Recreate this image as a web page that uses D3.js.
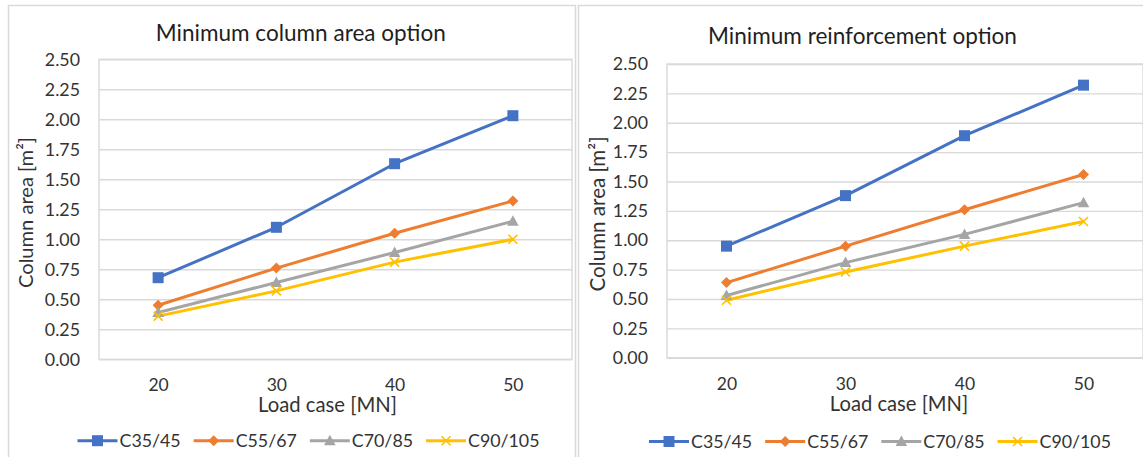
<!DOCTYPE html>
<html>
<head>
<meta charset="utf-8">
<script src="https://cdn.jsdelivr.net/npm/d3@7"></script>
<style>
  body { margin: 0; background: #fff; }
  svg { display: block; }
  text { font-family: Lato, "Open Sans", "DejaVu Sans", sans-serif; }
</style>
</head>
<body>
<svg id="chart" width="1143" height="457"></svg>
<script>
// Load cases on the x axis [MN]
const loadCases = [20, 30, 40, 50];
// Concrete strength classes (one line per class)
const grades = ["C35/45", "C55/67", "C70/85", "C90/105"];
// Y axis tick values [m²]
const areaTicks = [0, 0.25, 0.5, 0.75, 1.0, 1.25, 1.5, 1.75, 2.0, 2.25, 2.5];

// Minimum column area option: column area [m²]
const minAreaC35 = [0.68, 1.10, 1.63, 2.03];
const minAreaC55 = [0.45, 0.76, 1.05, 1.32];
const minAreaC70 = [0.39, 0.64, 0.89, 1.15];
const minAreaC90 = [0.36, 0.57, 0.81, 1.00];

// Minimum reinforcement option: column area [m²]
const minReinfC35 = [0.95, 1.38, 1.89, 2.32];
const minReinfC55 = [0.64, 0.95, 1.26, 1.56];
const minReinfC70 = [0.53, 0.81, 1.05, 1.32];
const minReinfC90 = [0.49, 0.73, 0.95, 1.16];

const gradeColors = ["#4472C4", "#ED7D31", "#A5A5A5", "#FFC000"];
const gradeMarkers = ["square", "diamond", "triangle", "cross"];

const panels = [
  {
    title: "Minimum column area option",
    series: [minAreaC35, minAreaC55, minAreaC70, minAreaC90],
    frame: { x: 8.5, y: 5.5, w: 567, h: 500 },
    plot: { left: 99, right: 572, top: 59.3, bottom: 359.3 },
    titleX: 300.8, titleY: 40.7, titleW: 290,
    yTitleX: 33, yTitleY: 212.5, yTitleW: 151,
    xTickY: 391.5,
    xTitleX: 327.5, xTitleY: 411.7, xTitleW: 139,
    legendX: 308.5, legendY: 440.7
  },
  {
    title: "Minimum reinforcement option",
    series: [minReinfC35, minReinfC55, minReinfC70, minReinfC90],
    frame: { x: 578.5, y: 5.5, w: 600, h: 500 },
    plot: { left: 667, right: 1143, top: 64, bottom: 357.8 },
    titleX: 862.5, titleY: 43.5, titleW: 309,
    yTitleX: 604.5, yTitleY: 214, yTitleW: 155,
    xTickY: 390,
    xTitleX: 899, xTitleY: 411, xTitleW: 138.5,
    legendX: 880, legendY: 441.5
  }
];

const svg = d3.select("#chart");
svg.append("rect").attr("width", 1143).attr("height", 457).attr("fill", "#fff");

// scale a text's font size so that it spans the given width
function fitText(sel, width) {
  const node = sel.node();
  const fs = parseFloat(sel.attr("font-size"));
  const len = node.getComputedTextLength();
  if (len > 0) sel.attr("font-size", (fs * width / len).toFixed(2));
  return sel;
}

function markerPath(kind) {
  const p = d3.path();
  if (kind === "square") {
    p.rect(-5.5, -5.5, 11, 11);
  } else if (kind === "diamond") {
    p.moveTo(0, -5.5); p.lineTo(5.5, 0); p.lineTo(0, 5.5); p.lineTo(-5.5, 0); p.closePath();
  } else if (kind === "triangle") {
    p.moveTo(0, -6); p.lineTo(5.8, 4.5); p.lineTo(-5.8, 4.5); p.closePath();
  } else {
    p.moveTo(-4.5, -4.5); p.lineTo(4.5, 4.5);
    p.moveTo(4.5, -4.5); p.lineTo(-4.5, 4.5);
  }
  return p.toString();
}

function drawMarker(g, i, x, y) {
  const kind = gradeMarkers[i];
  const m = g.append("path")
    .attr("d", markerPath(kind))
    .attr("transform", `translate(${x},${y})`);
  if (kind === "cross") {
    m.attr("fill", "none").attr("stroke", gradeColors[i]).attr("stroke-width", 1.6);
  } else {
    m.attr("fill", gradeColors[i]);
  }
}

panels.forEach(panel => {
  const g = svg.append("g");
  const P = panel.plot;

  // chart area border
  g.append("rect")
    .attr("x", panel.frame.x).attr("y", panel.frame.y)
    .attr("width", panel.frame.w).attr("height", panel.frame.h)
    .attr("fill", "#fff").attr("stroke", "#d9d9d9").attr("stroke-width", 1.5);

  const x = d3.scalePoint().domain(loadCases).range([P.left, P.right]).padding(0.5);
  const y = d3.scaleLinear().domain([0, 2.5]).range([P.bottom, P.top]);

  // horizontal gridlines
  const grid = g.append("g")
    .attr("transform", `translate(${P.left},0)`)
    .call(d3.axisLeft(y).tickValues(areaTicks).tickSize(-(P.right - P.left)).tickFormat(""));
  grid.select(".domain").remove();
  grid.selectAll(".tick line").attr("stroke", "#d9d9d9").attr("stroke-width", 1.4);

  // plot area frame
  g.append("rect")
    .attr("x", P.left).attr("y", P.top)
    .attr("width", P.right - P.left).attr("height", P.bottom - P.top)
    .attr("fill", "none").attr("stroke", "#d9d9d9").attr("stroke-width", 1.4);

  // y tick labels
  const yAxis = g.append("g")
    .attr("transform", `translate(${P.left},0)`)
    .call(d3.axisLeft(y).tickValues(areaTicks).tickSize(0).tickPadding(19).tickFormat(d3.format(".2f")));
  yAxis.select(".domain").remove();
  yAxis.selectAll("text").attr("font-size", 17.8).attr("fill", "#333")
    .style("font-family", "Lato, 'Open Sans', sans-serif");

  // x tick labels
  const xAxis = g.append("g")
    .attr("transform", `translate(0,${P.bottom})`)
    .call(d3.axisBottom(x).tickSize(0).tickPadding(0));
  xAxis.select(".domain").remove();
  xAxis.selectAll("text").attr("font-size", 17.5).attr("fill", "#333")
    .attr("dy", null).attr("y", panel.xTickY - P.bottom)
    .style("font-family", "Lato, 'Open Sans', sans-serif");

  // series lines and markers
  const line = d3.line().x((d, j) => x(loadCases[j])).y(d => y(d));
  panel.series.forEach((vals, i) => {
    g.append("path").datum(vals)
      .attr("d", line)
      .attr("fill", "none")
      .attr("stroke", gradeColors[i])
      .attr("stroke-width", 3)
      .attr("stroke-linejoin", "round")
      .attr("stroke-linecap", "round");
  });
  panel.series.forEach((vals, i) => {
    vals.forEach((v, j) => drawMarker(g, i, x(loadCases[j]), y(v)));
  });

  // chart title
  fitText(g.append("text")
    .attr("x", panel.titleX).attr("y", panel.titleY)
    .attr("text-anchor", "middle").attr("font-size", 20).attr("fill", "#1f1f1f")
    .text(panel.title), panel.titleW);

  // axis titles
  fitText(g.append("text")
    .attr("transform", `translate(${panel.yTitleX},${panel.yTitleY}) rotate(-90)`)
    .attr("text-anchor", "middle").attr("font-size", 18).attr("fill", "#333")
    .text("Column area [m²]"), panel.yTitleW);

  fitText(g.append("text")
    .attr("x", panel.xTitleX).attr("y", panel.xTitleY)
    .attr("text-anchor", "middle").attr("font-size", 18).attr("fill", "#333")
    .text("Load case [MN]"), panel.xTitleW);

  // legend
  const leg = g.append("g");
  const items = grades.map((name, i) => {
    const it = leg.append("g");
    it.append("line").attr("x1", 0).attr("x2", 40).attr("y1", 0).attr("y2", 0)
      .attr("stroke", gradeColors[i]).attr("stroke-width", 3);
    drawMarker(it, i, 20, 0);
    const t = it.append("text").attr("x", 42).attr("dy", "0.36em")
      .attr("font-size", 17.8).attr("fill", "#333").text(name);
    return { it, w: 42 + t.node().getComputedTextLength() };
  });
  const gap = 13;
  const total = d3.sum(items, d => d.w) + gap * (items.length - 1);
  let cx = panel.legendX - total / 2;
  items.forEach(d => {
    d.it.attr("transform", `translate(${cx},${panel.legendY})`);
    cx += d.w + gap;
  });
});
</script>
</body>
</html>
